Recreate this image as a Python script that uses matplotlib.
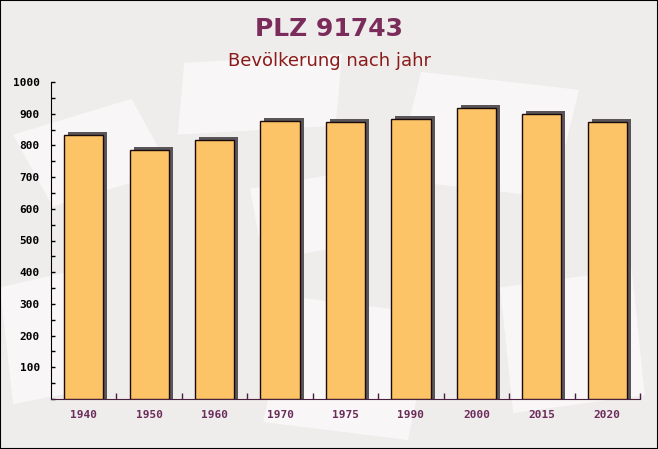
import matplotlib
matplotlib.use("Agg")
import matplotlib.pyplot as plt
import matplotlib.transforms as mtransforms
from matplotlib.patches import Rectangle, Polygon
from matplotlib.ticker import MultipleLocator, FixedLocator

years = ["1940", "1950", "1960", "1970", "1975", "1990", "2000", "2015", "2020"]
population = [833, 785, 817, 877, 873, 883, 917, 899, 873]
y_ticks = [100, 200, 300, 400, 500, 600, 700, 800, 900, 1000]

title = "PLZ 91743"
subtitle = "Bevölkerung nach jahr"

fig = plt.figure(figsize=(6.58, 4.49), dpi=100)
fig.patch.set_facecolor("#efecec")

# faint background envelope shapes
shapes = [
    [(0.02, 0.70), (0.20, 0.78), (0.26, 0.62), (0.08, 0.54)],
    [(0.28, 0.86), (0.52, 0.88), (0.51, 0.72), (0.27, 0.70)],
    [(0.60, 0.60), (0.84, 0.56), (0.88, 0.80), (0.64, 0.84)],
    [(0.40, 0.06), (0.62, 0.02), (0.66, 0.30), (0.44, 0.34)],
    [(0.02, 0.10), (0.16, 0.14), (0.12, 0.40), (0.00, 0.36)],
    [(0.78, 0.08), (0.98, 0.12), (0.96, 0.40), (0.76, 0.36)],
    [(0.40, 0.42), (0.56, 0.46), (0.54, 0.62), (0.38, 0.58)],
]
for pts in shapes:
    fig.patches.append(Polygon(pts, closed=True, transform=fig.transFigure,
                               facecolor="#f8f6f6", edgecolor="none", zorder=-5))

fig.patches.append(Rectangle((0, 0), 1, 1, transform=fig.transFigure, fill=False,
                             edgecolor="black", linewidth=1.5, zorder=10))

ax = fig.add_axes([51 / 658, 50 / 449, 589 / 658, 317 / 449])
ax.set_facecolor("none")
ax.set_zorder(5)

x = list(range(len(years)))
w = 0.6
sh1 = ax.transData + mtransforms.ScaledTranslation(4 / 100, 3 / 100, fig.dpi_scale_trans)
sh2 = ax.transData + mtransforms.ScaledTranslation(4 / 100, 0, fig.dpi_scale_trans)
ax.bar(x, population, width=w, color="#5a5558", edgecolor="none", transform=sh1, zorder=2)
ax.bar(x, population, width=w, color="#5a5558", edgecolor="none", transform=sh2, zorder=2)
ax.bar(x, population, width=w, color="#fcc466", edgecolor="#1a0a0a", linewidth=1.0, zorder=3)

ax.set_xlim(-0.5, len(years) - 0.5)
ax.set_ylim(0, 1000)

ax.yaxis.set_major_locator(FixedLocator(y_ticks))
ax.yaxis.set_minor_locator(MultipleLocator(50))
ax.set_xticks(x)
ax.set_xticklabels(years)
ax.xaxis.set_minor_locator(FixedLocator([i + 0.5 for i in x]))

for s in ["top", "right"]:
    ax.spines[s].set_visible(False)
ax.spines["left"].set_color("black")
ax.spines["bottom"].set_color("#4a2040")

ax.tick_params(axis="y", which="both", direction="in", length=3, width=1, color="black",
               labelsize=8, pad=8)
ax.tick_params(axis="x", which="major", length=0, pad=8, labelsize=8, labelcolor="#6b2d5b")
ax.tick_params(axis="x", which="minor", direction="in", length=4, width=1, color="#4a2040")

for lab in ax.get_yticklabels():
    lab.set_fontfamily("DejaVu Sans Mono")
    lab.set_fontweight("bold")
for lab in ax.get_xticklabels():
    lab.set_fontfamily("DejaVu Sans Mono")
    lab.set_fontweight("bold")
    lab.set_color("#6b2d5b")

fig.text(0.5, 1 - 29 / 449, title, ha="center", va="center", fontsize=18,
         fontweight="bold", color="#7a2c5a", family="DejaVu Sans")
fig.text(0.5, 1 - 61 / 449, subtitle, ha="center", va="center", fontsize=13,
         color="#8b1a1a", family="DejaVu Sans")

fig.savefig("out.png", dpi=100, facecolor=fig.get_facecolor())
